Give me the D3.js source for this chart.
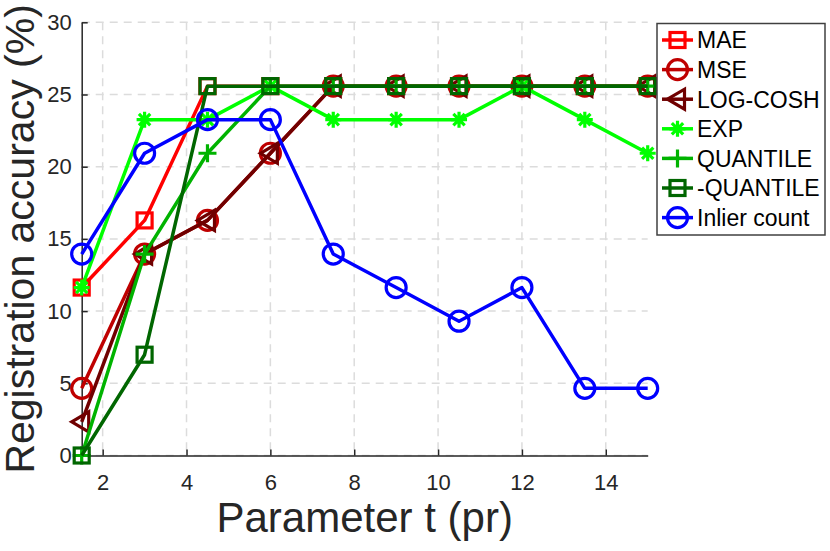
<!DOCTYPE html>
<html lang="en">
<head>
<meta charset="UTF-8">
<title>Registration accuracy vs parameter t</title>
<script src="https://d3js.org/d3.v7.min.js"></script>
<style>
  body { margin: 0; background: #fff; }
  svg { display: block; font-family: "Liberation Sans", Arial, Helvetica, sans-serif; }
  .axis path, .axis line { stroke: #262626; stroke-width: 1.5; }
  .axis text { fill: #262626; font-size: 22px; }
  .grid line { stroke: #dcdcdc; stroke-width: 1.5; stroke-dasharray: 8,6; }
</style>
</head>
<body>
<div id="chart"></div>
<script>
// parameter t values (x) and tick labels
const tValues = [1.5, 3, 4.5, 6, 7.5, 9, 10.5, 12, 13.5, 15];
const xTicks = [2, 4, 6, 8, 10, 12, 14];
const yTicks = [0, 5, 10, 15, 20, 25, 30];

// series, registration accuracy (%)
const seriesNames = ['MAE', 'MSE', 'LOG-COSH', 'EXP', 'QUANTILE', '-QUANTILE', 'Inlier count'];
const mae      = [11.63, 16.28, 25.58, 25.58, 25.58, 25.58, 25.58, 25.58, 25.58, 25.58];
const mse      = [4.65, 13.95, 16.28, 20.93, 25.58, 25.58, 25.58, 25.58, 25.58, 25.58];
const logCosh  = [2.33, 13.95, 16.28, 20.93, 25.58, 25.58, 25.58, 25.58, 25.58, 25.58];
const expLoss  = [11.63, 23.26, 23.26, 25.58, 23.26, 23.26, 23.26, 25.58, 23.26, 20.93];
const quantile = [0, 13.95, 20.93, 25.58, 25.58, 25.58, 25.58, 25.58, 25.58, 25.58];
const negQuantile = [0, 6.98, 25.58, 25.58, 25.58, 25.58, 25.58, 25.58, 25.58, 25.58];
const inlierCount = [13.95, 20.93, 23.26, 23.26, 13.95, 11.63, 9.30, 11.63, 4.65, 4.65];

const series = [
  { name: seriesNames[0], values: mae,         color: '#ff0000', marker: 'square' },
  { name: seriesNames[1], values: mse,         color: '#bf0000', marker: 'circle' },
  { name: seriesNames[2], values: logCosh,     color: '#700000', marker: 'triangle' },
  { name: seriesNames[3], values: expLoss,     color: '#00ff00', marker: 'asterisk' },
  { name: seriesNames[4], values: quantile,    color: '#00b300', marker: 'plus' },
  { name: seriesNames[5], values: negQuantile, color: '#006600', marker: 'square' },
  { name: seriesNames[6], values: inlierCount, color: '#0000ff', marker: 'circle' }
];

const W = 830, H = 551;
const plot = { left: 81.7, right: 647.7, top: 22.3, bottom: 455.5 };

const svg = d3.select('#chart').append('svg')
    .attr('width', W)
    .attr('height', H);

const x = d3.scaleLinear().domain([1.5, 15]).range([plot.left, plot.right]);
const y = d3.scaleLinear().domain([0, 30]).range([plot.bottom, plot.top]);

// dashed grid
const grid = svg.append('g').attr('class', 'grid');
grid.selectAll('.gx').data(xTicks).enter().append('line')
    .attr('x1', d => x(d)).attr('x2', d => x(d))
    .attr('y1', plot.top).attr('y2', plot.bottom);
grid.selectAll('.gy').data(yTicks).enter().append('line')
    .attr('x1', plot.left).attr('x2', plot.right)
    .attr('y1', d => y(d)).attr('y2', d => y(d));

// axes, ticks pointing inwards
svg.append('g')
    .attr('class', 'axis')
    .attr('transform', `translate(0,${plot.bottom})`)
    .call(d3.axisBottom(x).tickValues(xTicks).tickFormat(d3.format('d'))
        .tickSizeInner(-6).tickSizeOuter(0).tickPadding(19));

svg.append('g')
    .attr('class', 'axis')
    .attr('transform', `translate(${plot.left},0)`)
    .call(d3.axisLeft(y).tickValues(yTicks).tickFormat(d3.format('d'))
        .tickSizeInner(-6).tickSizeOuter(0).tickPadding(10));

// axis titles
svg.append('text')
    .attr('x', (plot.left + plot.right) / 2)
    .attr('y', 532)
    .attr('text-anchor', 'middle')
    .attr('fill', '#262626')
    .style('font-size', '42px')
    .text('Parameter t (pr)');

svg.append('text')
    .attr('transform', 'rotate(-90)')
    .attr('x', -(plot.top + plot.bottom) / 2)
    .attr('y', 34)
    .attr('text-anchor', 'middle')
    .attr('fill', '#262626')
    .style('font-size', '41px')
    .text('Registration accuracy (%)');

// marker drawing
function drawMarker(g, type, color) {
  const sw = 3.2;
  if (type === 'square') {
    g.append('rect').attr('x', -7.5).attr('y', -7.5).attr('width', 15).attr('height', 15)
      .attr('fill', 'none').attr('stroke', color).attr('stroke-width', sw);
  } else if (type === 'circle') {
    g.append('circle').attr('r', 10)
      .attr('fill', 'none').attr('stroke', color).attr('stroke-width', sw);
  } else if (type === 'triangle') {
    g.append('path').attr('d', 'M-10,0L7,-10L7,10Z')
      .attr('fill', 'none').attr('stroke', color).attr('stroke-width', sw)
      .attr('stroke-linejoin', 'miter');
  } else if (type === 'asterisk') {
    const r = 8, q = r * Math.SQRT1_2;
    g.append('path')
      .attr('d', `M${-r},0L${r},0M0,${-r}L0,${r}M${-q},${-q}L${q},${q}M${-q},${q}L${q},${-q}`)
      .attr('fill', 'none').attr('stroke', color).attr('stroke-width', sw);
  } else if (type === 'plus') {
    const r = 9;
    g.append('path').attr('d', `M${-r},0L${r},0M0,${-r}L0,${r}`)
      .attr('fill', 'none').attr('stroke', color).attr('stroke-width', sw);
  }
}

const line = d3.line()
    .x((d, i) => x(tValues[i]))
    .y(d => y(d));

series.forEach(s => {
  const g = svg.append('g');
  g.append('path')
    .datum(s.values)
    .attr('d', line)
    .attr('fill', 'none')
    .attr('stroke', s.color)
    .attr('stroke-width', 3.5)
    .attr('stroke-linejoin', 'round');
  g.selectAll('.m')
    .data(s.values)
    .enter().append('g')
    .attr('transform', (d, i) => `translate(${x(tValues[i])},${y(d)})`)
    .each(function() { drawMarker(d3.select(this), s.marker, s.color); });
});

// legend
const legend = svg.append('g');
legend.append('rect')
    .attr('x', 657).attr('y', 23.5)
    .attr('width', 168).attr('height', 211.5)
    .attr('fill', '#fff')
    .attr('stroke', '#404040')
    .attr('stroke-width', 1.5);

series.forEach((s, i) => {
  const cy = 40 + i * 29.6;
  const item = legend.append('g');
  item.append('line')
    .attr('x1', 662).attr('x2', 693)
    .attr('y1', cy).attr('y2', cy)
    .attr('stroke', s.color).attr('stroke-width', 3.5);
  const mk = item.append('g').attr('transform', `translate(677.5,${cy})`);
  drawMarker(mk, s.marker, s.color);
  item.append('text')
    .attr('x', 697).attr('y', cy + 8.3)
    .attr('fill', '#000')
    .style('font-size', '23px')
    .text(s.name);
});
</script>
</body>
</html>
